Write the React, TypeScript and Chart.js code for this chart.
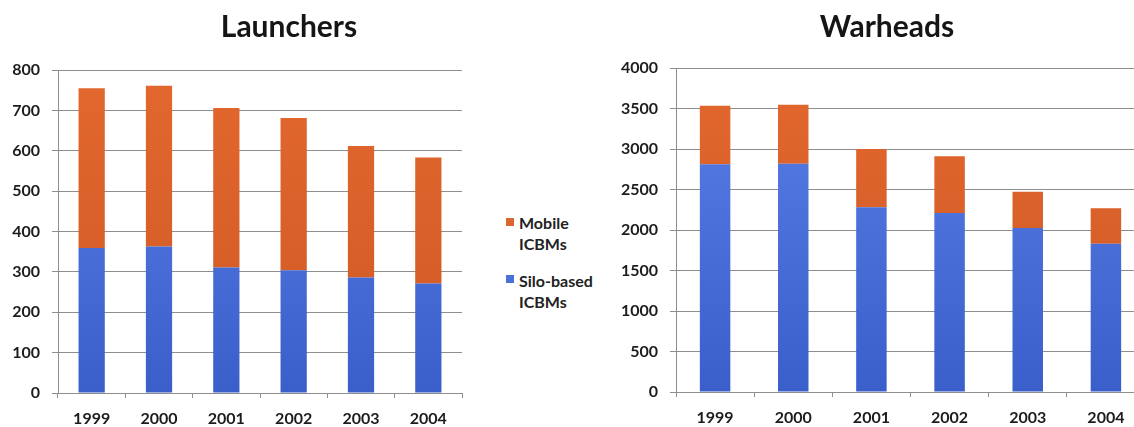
import React, { useEffect, useRef } from 'react';
import { Chart, registerables } from 'chart.js';

Chart.register(...registerables);

const years = ['1999', '2000', '2001', '2002', '2003', '2004'];

const launchersSilo = [359, 363, 311, 304, 286, 271];
const launchersMobile = [396, 398, 395, 377, 326, 312];

const warheadsSilo = [2812, 2817, 2280, 2209, 2024, 1829];
const warheadsMobile = [722, 730, 720, 703, 448, 439];

const launchersAxis = { max: 800, step: 100 };
const warheadsAxis = { max: 4000, step: 500 };

const seriesNames = ['Silo-based ICBMs', 'Mobile ICBMs'];

const FONT = 'Lato, "Open Sans", "DejaVu Sans", sans-serif';
const GRID = '#8e8e8e';
const TEXT = '#1c1c1c';

function blueFill(ctx: any) {
  const area = ctx.chart.chartArea;
  if (!area) return '#4a70d9';
  const g = ctx.chart.ctx.createLinearGradient(0, area.top, 0, area.bottom);
  g.addColorStop(0, '#5a7fe6');
  g.addColorStop(1, '#3a5fcb');
  return g;
}

function orangeFill(ctx: any) {
  const area = ctx.chart.chartArea;
  if (!area) return '#da632e';
  const g = ctx.chart.ctx.createLinearGradient(0, area.top, 0, area.bottom);
  g.addColorStop(0, '#e2682f');
  g.addColorStop(1, '#d05822');
  return g;
}

function makeConfig(
  silo: number[],
  mobile: number[],
  axis: { max: number; step: number },
  yWidth: number,
  padRight: number,
  padTop: number,
  xHeight: number
): any {
  return {
    type: 'bar',
    data: {
      labels: years,
      datasets: [
        {
          label: seriesNames[0],
          data: silo,
          backgroundColor: blueFill,
          borderWidth: 0,
          barPercentage: 0.39,
          categoryPercentage: 1,
        },
        {
          label: seriesNames[1],
          data: mobile,
          backgroundColor: orangeFill,
          borderWidth: 0,
          barPercentage: 0.39,
          categoryPercentage: 1,
        },
      ],
    },
    options: {
      responsive: false,
      maintainAspectRatio: false,
      devicePixelRatio: 1,
      animation: false,
      layout: { padding: { left: 0, right: padRight, top: padTop, bottom: 0 } },
      plugins: {
        legend: { display: false },
        tooltip: { enabled: false },
        title: { display: false },
      },
      scales: {
        x: {
          stacked: true,
          offset: true,
          grid: {
            offset: true,
            drawOnChartArea: false,
            drawTicks: true,
            tickLength: 5,
            color: GRID,
          },
          border: { display: true, color: GRID, width: 1 },
          ticks: {
            color: TEXT,
            padding: 11,
            font: { family: FONT, size: 16, weight: 'bold' },
            maxRotation: 0,
          },
          afterFit: (s: any) => {
            s.height = xHeight;
          },
        },
        y: {
          stacked: true,
          min: 0,
          max: axis.max,
          grid: {
            color: GRID,
            lineWidth: 1,
            drawTicks: true,
            tickLength: 6,
          },
          border: { display: true, color: GRID, width: 1 },
          ticks: {
            stepSize: axis.step,
            color: TEXT,
            padding: 12,
            font: { family: FONT, size: 16, weight: 'bold' },
            callback: (v: any) => String(v),
          },
          afterFit: (s: any) => {
            s.width = yWidth;
          },
        },
      },
    },
  };
}

function BarPanel(props: {
  left: number;
  width: number;
  silo: number[];
  mobile: number[];
  axis: { max: number; step: number };
  yWidth: number;
  padRight: number;
  padTop: number;
  xHeight: number;
}) {
  const ref = useRef<HTMLCanvasElement | null>(null);
  useEffect(() => {
    if (!ref.current) return;
    const chart = new Chart(
      ref.current,
      makeConfig(props.silo, props.mobile, props.axis, props.yWidth, props.padRight, props.padTop, props.xHeight)
    );
    return () => chart.destroy();
  }, []);
  return (
    <canvas
      ref={ref}
      width={props.width}
      height={427}
      style={{ position: 'absolute', left: props.left, top: 0, width: props.width, height: 427, display: 'block' }}
    />
  );
}

const titleStyle: React.CSSProperties = {
  position: 'absolute',
  top: 10,
  width: 300,
  textAlign: 'center',
  fontFamily: FONT,
  fontWeight: 'bold',
  fontSize: 30,
  lineHeight: '30px',
  color: '#151515',
  whiteSpace: 'nowrap',
};

const legendText: React.CSSProperties = {
  position: 'absolute',
  left: 519,
  fontFamily: FONT,
  fontWeight: 'bold',
  fontSize: 16,
  lineHeight: '21px',
  color: '#222',
  whiteSpace: 'nowrap',
};

export default function App() {
  return (
    <div
      style={{
        position: 'absolute',
        left: 0,
        top: 0,
        width: 1134,
        height: 427,
        overflow: 'hidden',
        background: '#ffffff',
      }}
    >
      <BarPanel
        left={0}
        width={470}
        silo={launchersSilo}
        mobile={launchersMobile}
        axis={launchersAxis}
        yWidth={58}
        padRight={8}
        padTop={70}
        xHeight={34}
      />
      <BarPanel
        left={600}
        width={560}
        silo={warheadsSilo}
        mobile={warheadsMobile}
        axis={warheadsAxis}
        yWidth={76}
        padRight={15}
        padTop={68}
        xHeight={35}
      />
      <div style={{ ...titleStyle, left: 289 - 150 }}>Launchers</div>
      <div style={{ ...titleStyle, left: 887 - 150 }}>Warheads</div>
      <div style={{ position: 'absolute', left: 506, top: 218, width: 8, height: 8, background: '#dc6530' }} />
      <div style={{ ...legendText, top: 212 }}>
        Mobile
        <br />
        ICBMs
      </div>
      <div style={{ position: 'absolute', left: 506, top: 275, width: 8, height: 8, background: '#4a70d9' }} />
      <div style={{ ...legendText, top: 270 }}>
        Silo-based
        <br />
        ICBMs
      </div>
    </div>
  );
}
